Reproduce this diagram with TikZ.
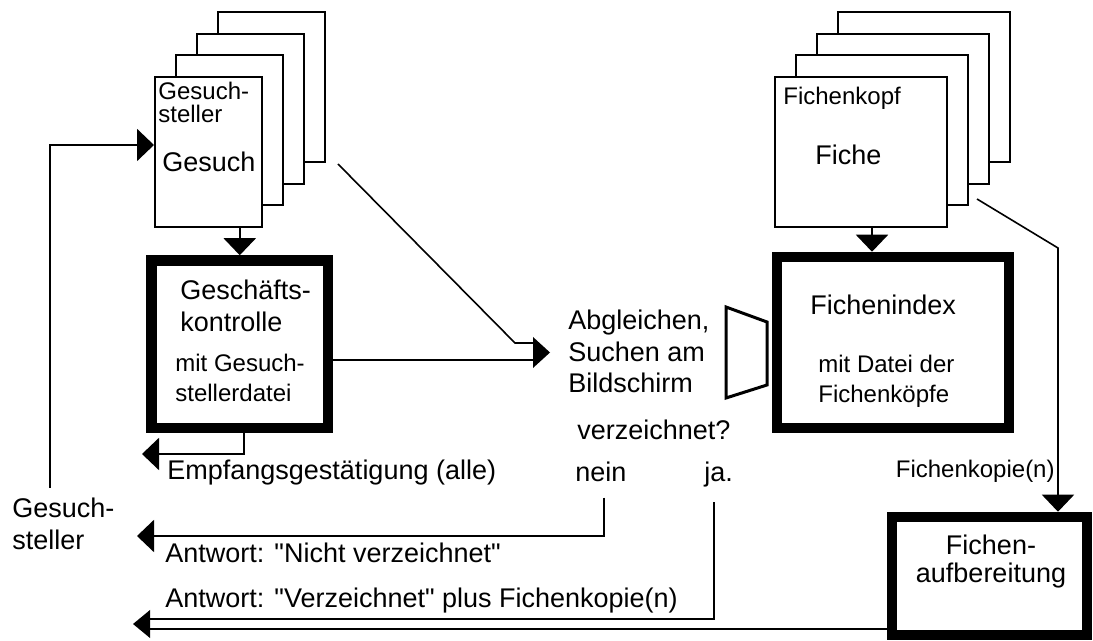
\documentclass[tikz,border=0pt]{standalone}
\usepackage{fontspec}
\setmainfont{Liberation Sans}[Ligatures=TeXOff]
\usepackage{tikz}
\usetikzlibrary{arrows.meta,positioning,calc}

\begin{document}
\begin{tikzpicture}[
  x=0.5pt, y=-0.5pt,
  sheet/.style={rectangle, draw, fill=white, line width=1pt, inner sep=0pt,
    minimum width=#1, minimum height=75pt},
  procbox/.style={rectangle, draw, line width=5.25pt, inner sep=0pt},
  lbl/.style={font=\fontsize{13.5}{16}\selectfont, inner sep=0pt, align=left},
  small/.style={font=\fontsize{12}{15}\selectfont, inner sep=0pt, align=left},
  arrow/.style={-{Triangle[length=8.5pt,width=16pt]}, line width=1pt},
  line/.style={line width=1pt}]
  \useasboundingbox (0,0) rectangle (1093,641);

  % Gesuche (stack of sheets)
  \foreach \i in {3,2,1}
    \node[sheet=53.5pt] (gs\i) at ({208.5+21*\i},{152-21.5*\i}) {};
  \node[sheet=53.5pt] (gesuch) at (208.5,152) {};
  \node[small, font=\fontsize{12}{11.5}\selectfont, anchor=base west] (gsname) at (158,123) {Gesuch-\\steller};
  \node[lbl, anchor=base west] (gesuchlbl) at (162,172) {Gesuch};

  % Fichen (stack of sheets)
  \foreach \i in {3,2,1}
    \node[sheet=86pt] (fc\i) at ({861+21*\i},{152-21.5*\i}) {};
  \node[sheet=86pt] (fiche) at (861,152) {};
  \node[small, anchor=base west] (fkopf) at (783,105) {Fichenkopf};
  \node[lbl, anchor=base west] (fichelbl) at (815,165) {Fiche};

  % Geschaeftskontrolle
  \node[procbox, minimum width=88.25pt, minimum height=83.75pt] (gk) at (239.75,344.25) {};
  \node[lbl, anchor=base west] (gkname) at (180,332) {Geschäfts-\\kontrolle};
  \node[small, anchor=base west] (gkfile) at (175,402) {mit Gesuch-\\stellerdatei};

  % Fichenindex
  \node[procbox, minimum width=116pt, minimum height=85.5pt] (fi) at (893,342.5) {};
  \node[lbl, anchor=base west] (finame) at (810,315) {Fichenindex};
  \node[small, anchor=base west] (fifile) at (818,403) {mit Datei der\\Fichenköpfe};

  % Fichenaufbereitung
  \node[procbox, minimum width=97.5pt, minimum height=59pt] (fa) at (989.5,576) {};
  \node[lbl, font=\fontsize{13.5}{13.5}\selectfont, align=center, anchor=base] (faname) at (991,582) {Fichen-\\aufbereitung};

  % Bildschirm
  \node[lbl, font=\fontsize{13.5}{15.75}\selectfont, anchor=base west] (match) at (568,393) {Abgleichen,\\Suchen am\\Bildschirm};
  \draw[line width=1.5pt] (726,307) -- (767,322) -- (767,385) -- (726,398) -- cycle;
  \node[lbl, anchor=base west] (listed) at (577,440) {verzeichnet?};
  \node[lbl, anchor=base west] (nein) at (575,482) {nein};
  \node[lbl, anchor=base west] (ja) at (704,482) {ja.};

  % labels on the left
  \node[lbl, anchor=base west] (ack) at (167,480) {Empfangsgestätigung (alle)};
  \node[lbl, anchor=base west] (appl) at (12,550) {Gesuch-\\steller};
  \node[lbl, anchor=base west] (ansno) at (165,563) {Antwort: "Nicht verzeichnet"};
  \node[lbl, anchor=base west] (ansyes) at (165,608) {Antwort: "Verzeichnet" plus Fichenkopie(n)};
  \node[small, anchor=base east] (fkcopy) at (1055,478) {Fichenkopie(n)};

  % connectors
  \coordinate (fbfoot) at (50,488);
  \draw[arrow] (fbfoot) |- ([yshift=3.5pt]gesuch.west);
  \draw[arrow] (gesuch.south -| gk.north) -- (gk.north);

  \coordinate (mbase) at (533,352.5);
  \coordinate (gsdiag) at (338,164);
  \coordinate (mbend) at (515,343);
  \draw[line] ([yshift=-8pt]gk.east) -- ([yshift=-8pt]gk.east -| mbase);
  \draw[line width=0.8pt] (gsdiag) -- (mbend) -- (mbend -| mbase);
  \fill ([yshift=7.75pt]mbase) -- ([xshift=8.5pt]mbase) -- ([yshift=-7.75pt]mbase) -- cycle;

  \coordinate (acktip) at (142,454);
  \draw[arrow] ([xshift=2pt]gk.south) |- (acktip);

  \coordinate (notip) at (137,536);
  \draw[arrow] ([shift={(1.5pt,-7.5pt)}]nein.south) |- (notip);

  \coordinate (yesbase) at (150,619);
  \coordinate (retbase) at (150,629);
  \coordinate (rettip) at (133,624);
  \draw[line] ([shift={(-2.5pt,-7pt)}]ja.south) |- (yesbase);
  \draw[line] (fa.west |- retbase) -- (retbase);
  \fill (rettip) -- ([shift={(8.5pt,7pt)}]rettip) -- ([shift={(8.5pt,-7pt)}]rettip) -- cycle;

  \draw[arrow] ([xshift=5.5pt]fiche.south) -- ([xshift=5.5pt]fiche.south |- fi.north);
  \coordinate (fkstart) at (977,199);
  \coordinate (fkbend) at (1058,248);
  \draw[arrow, line width=0.8pt] (fkstart) -- (fkbend) -- (fkbend |- fa.north);
\end{tikzpicture}
\end{document}
